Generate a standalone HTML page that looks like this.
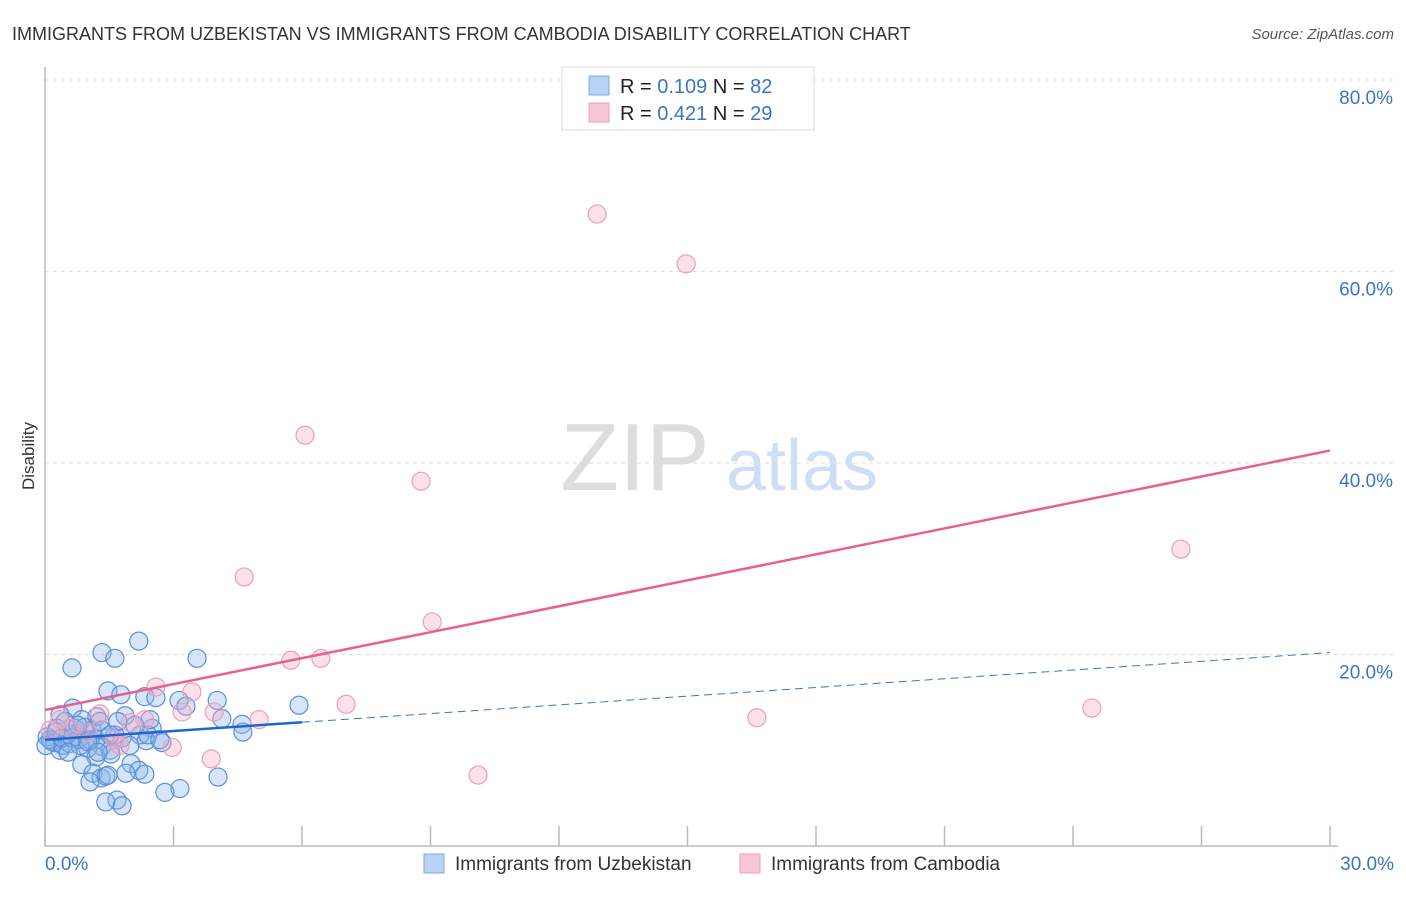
<!DOCTYPE html>
<html><head><meta charset="utf-8"><style>
body{margin:0;background:#fff;font-family:"Liberation Sans",sans-serif;}
svg text{font-family:"Liberation Sans",sans-serif;}
</style></head><body>
<svg id="chart" width="1406" height="892" xmlns="http://www.w3.org/2000/svg">
<text x="12" y="40" font-size="18" fill="#333">IMMIGRANTS FROM UZBEKISTAN VS IMMIGRANTS FROM CAMBODIA DISABILITY CORRELATION CHART</text>
<text x="1394" y="39" font-size="15" fill="#555" font-style="italic" text-anchor="end">Source: ZipAtlas.com</text>
<text x="635" y="490" font-size="96" fill="#ddd" font-family="Liberation Serif" text-anchor="middle">ZIP</text>
<text x="802" y="490" font-size="72" fill="#cfdff3" text-anchor="middle">atlas</text>
<text x="34" y="456" font-size="17" fill="#333" text-anchor="middle" transform="rotate(-90 34 456)">Disability</text>
<g id="grid"></g><g id="axes"></g><g id="marks"></g>
<g>
<rect x="562" y="67" width="252" height="63" fill="#fff" stroke="#ddd"/>
<rect x="589" y="76" width="20" height="19" fill="#b7d2f5" stroke="#7fa9e0"/>
<rect x="589" y="103" width="20" height="19" fill="#f9c6d6" stroke="#eaa0b8"/>
<text x="620" y="93" font-size="20" fill="#222">R = <tspan fill="#3a75c4">0.109</tspan>   N = <tspan fill="#3a75c4">82</tspan></text>
<text x="620" y="120" font-size="20" fill="#222">R = <tspan fill="#3a75c4">0.421</tspan>   N = <tspan fill="#3a75c4">29</tspan></text>
</g>
<g>
<rect x="424" y="854" width="20" height="19" fill="#b7d2f5" stroke="#7fa9e0"/>
<text x="455" y="870" font-size="19" fill="#333">Immigrants from Uzbekistan</text>
<rect x="740" y="854" width="20" height="19" fill="#f9c6d6" stroke="#eaa0b8"/>
<text x="771" y="870" font-size="19" fill="#333">Immigrants from Cambodia</text>
</g>
</svg>
<script>
const yTicks=[20,40,60,80];
const yTickLabels=["20.0%","40.0%","60.0%","80.0%"];
const xTickCount=[0,3,6,9,12,15,18,21,24,27,30];
const xEndLabels=["0.0%","30.0%"];
const uzX=[2.19,1.33,1.63,0.63,3.55,1.47,1.77,2.33,2.59,3.13,4.02,3.29,5.93,0.65,4.13,1.21,1.87,0.35,0.86,4.60,4.62,2.50,2.36,2.73,1.80,1.19,1.33,1.00,0.35,0.16,0.05,0.54,0.77,1.52,0.42,1.54,1.19,0.86,1.12,2.01,2.19,2.33,1.89,1.31,1.42,1.05,4.04,3.15,2.80,1.68,1.42,1.80,1.47,0.28,0.70,0.47,0.93,1.63,0.23,0.58,0.82,0.12,1.10,1.70,1.33,2.22,2.40,1.98,0.40,0.63,1.05,1.52,0.26,1.28,1.00,2.45,2.10,0.77,1.24,2.68,0.02,0.54];
const uzY=[21.4,20.2,19.6,18.6,19.6,16.2,15.8,15.6,15.5,15.2,15.2,14.6,14.7,14.4,13.3,13.5,13.6,13.7,13.2,12.7,11.9,12.3,11.0,10.8,11.3,11.1,10.4,10.2,10.0,10.9,11.4,11.7,11.1,10.0,10.5,9.6,9.3,8.5,7.6,8.6,7.9,7.5,7.6,7.1,7.3,6.7,7.2,6.0,5.6,4.8,4.6,4.2,7.4,12.3,12.3,13.0,12.4,11.6,10.8,10.7,10.5,11.1,12.1,13.0,12.1,11.6,11.6,10.5,11.3,11.3,11.1,11.6,11.9,13.0,10.9,13.2,12.6,12.6,9.8,11.1,10.5,9.8];
const khX=[12.89,14.97,6.07,8.78,4.65,9.04,5.74,6.44,26.52,24.44,16.62,7.03,10.11,2.59,3.43,3.20,3.95,5.00,3.88,2.97,2.33,1.99,1.28,0.35,0.58,1.63,1.00,0.12,1.75];
const khY=[66.0,60.8,42.9,38.1,28.1,23.4,19.4,19.6,31.0,14.4,13.4,14.8,7.4,16.6,16.1,14.0,14.0,13.2,9.1,10.3,13.2,12.9,13.8,13.2,12.3,11.1,11.9,12.1,10.5];
const khTrend=[14.2,41.3];   // y at x=0 and x=30
const uzTrend=[11.1,20.2];   // y at x=0 and x=30
const uzSolidEnd=6;
const NS="http://www.w3.org/2000/svg";
const X=v=>45+v/30*1285, Y=v=>846-v*9.575;
function mk(t,a,p){const e=document.createElementNS(NS,t);for(const k in a)e.setAttribute(k,a[k]);p.appendChild(e);return e;}
const grid=document.getElementById('grid'),axes=document.getElementById('axes'),marks=document.getElementById('marks');
yTicks.forEach((t,i)=>{
 const l=mk('line',{x1:45,x2:1393,y1:Y(t),y2:Y(t),stroke:'#ddd','stroke-dasharray':'4 4'},grid);
 
 
 const tx=mk('text',{x:1393,y:Y(t)+24,'font-size':19,fill:'#3a75c4','text-anchor':'end'},axes);
 tx.textContent=yTickLabels[i];
 
 
});
const ax=mk('path',{d:'M45 67 V846 H1338',fill:'none',stroke:'#bbb','stroke-width':1.5},axes);


xTickCount.forEach(t=>{
 const l=mk('line',{x1:X(t),x2:X(t),y1:826,y2:846,stroke:'#bbb','stroke-width':1.5},axes);
 
 
});
[[0,'start',45],[30,'end',1394]].forEach((d,i)=>{
 const tx=mk('text',{x:d[2],y:870,'font-size':19,fill:'#3a75c4','text-anchor':d[1]},axes);
 tx.textContent=xEndLabels[i];
 
 
});
uzX.forEach((v,i)=>{
 const c=mk('circle',{cx:X(v),cy:Y(uzY[i]),r:9,fill:'rgba(140,180,235,0.35)',stroke:'#5b8fd8','stroke-width':1.2},marks);
 
 
});
khX.forEach((v,i)=>{
 const c=mk('circle',{cx:X(v),cy:Y(khY[i]),r:9,fill:'rgba(245,170,195,0.35)',stroke:'#eaa0b8','stroke-width':1.2},marks);
 
 
});
const uzAt=x=>uzTrend[0]+(uzTrend[1]-uzTrend[0])*x/30;
const d1=mk('line',{x1:X(uzSolidEnd),y1:Y(uzAt(uzSolidEnd)),x2:X(30),y2:Y(uzTrend[1]),stroke:'#3a75c4','stroke-width':1,'stroke-dasharray':'8 5'},marks);


const s1=mk('line',{x1:X(0),y1:Y(uzTrend[0]),x2:X(uzSolidEnd),y2:Y(uzAt(uzSolidEnd)),stroke:'#1f66d1','stroke-width':2.5},marks);


const p1=mk('line',{x1:X(0),y1:Y(khTrend[0]),x2:X(30),y2:Y(khTrend[1]),stroke:'#e8608c','stroke-width':2.5},marks);


</script>
</body></html>
